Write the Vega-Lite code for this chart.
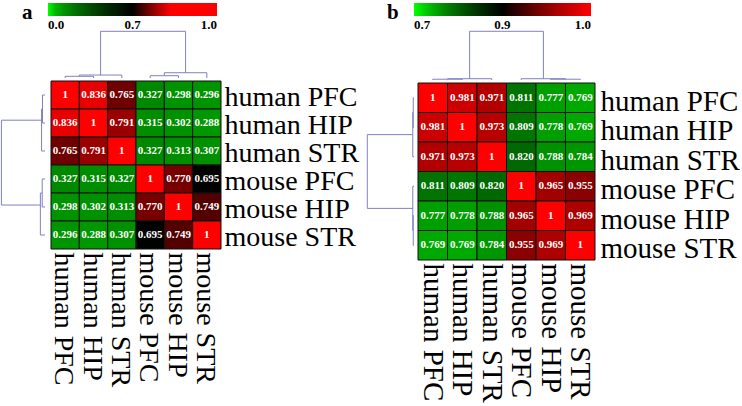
{
"$schema": "https://vega.github.io/schema/vega-lite/v6.json",
"padding": {"top": -7, "left": 0, "right": 0, "bottom": 0},
"background": "white",
"config": {"view": {"stroke": null}, "font": "Liberation Serif"},
"datasets": {
"matA": [
{"r":"human PFC","c":"human PFC","v":1,"t":"1"},{"r":"human PFC","c":"human HIP","v":0.836,"t":"0.836"},{"r":"human PFC","c":"human STR","v":0.765,"t":"0.765"},{"r":"human PFC","c":"mouse PFC","v":0.327,"t":"0.327"},{"r":"human PFC","c":"mouse HIP","v":0.298,"t":"0.298"},{"r":"human PFC","c":"mouse STR","v":0.296,"t":"0.296"},
{"r":"human HIP","c":"human PFC","v":0.836,"t":"0.836"},{"r":"human HIP","c":"human HIP","v":1,"t":"1"},{"r":"human HIP","c":"human STR","v":0.791,"t":"0.791"},{"r":"human HIP","c":"mouse PFC","v":0.315,"t":"0.315"},{"r":"human HIP","c":"mouse HIP","v":0.302,"t":"0.302"},{"r":"human HIP","c":"mouse STR","v":0.288,"t":"0.288"},
{"r":"human STR","c":"human PFC","v":0.765,"t":"0.765"},{"r":"human STR","c":"human HIP","v":0.791,"t":"0.791"},{"r":"human STR","c":"human STR","v":1,"t":"1"},{"r":"human STR","c":"mouse PFC","v":0.327,"t":"0.327"},{"r":"human STR","c":"mouse HIP","v":0.313,"t":"0.313"},{"r":"human STR","c":"mouse STR","v":0.307,"t":"0.307"},
{"r":"mouse PFC","c":"human PFC","v":0.327,"t":"0.327"},{"r":"mouse PFC","c":"human HIP","v":0.315,"t":"0.315"},{"r":"mouse PFC","c":"human STR","v":0.327,"t":"0.327"},{"r":"mouse PFC","c":"mouse PFC","v":1,"t":"1"},{"r":"mouse PFC","c":"mouse HIP","v":0.770,"t":"0.770"},{"r":"mouse PFC","c":"mouse STR","v":0.695,"t":"0.695"},
{"r":"mouse HIP","c":"human PFC","v":0.298,"t":"0.298"},{"r":"mouse HIP","c":"human HIP","v":0.302,"t":"0.302"},{"r":"mouse HIP","c":"human STR","v":0.313,"t":"0.313"},{"r":"mouse HIP","c":"mouse PFC","v":0.770,"t":"0.770"},{"r":"mouse HIP","c":"mouse HIP","v":1,"t":"1"},{"r":"mouse HIP","c":"mouse STR","v":0.749,"t":"0.749"},
{"r":"mouse STR","c":"human PFC","v":0.296,"t":"0.296"},{"r":"mouse STR","c":"human HIP","v":0.288,"t":"0.288"},{"r":"mouse STR","c":"human STR","v":0.307,"t":"0.307"},{"r":"mouse STR","c":"mouse PFC","v":0.695,"t":"0.695"},{"r":"mouse STR","c":"mouse HIP","v":0.749,"t":"0.749"},{"r":"mouse STR","c":"mouse STR","v":1,"t":"1"}
],
"matB": [
{"r":"human PFC","c":"human PFC","v":1,"t":"1"},{"r":"human PFC","c":"human HIP","v":0.981,"t":"0.981"},{"r":"human PFC","c":"human STR","v":0.971,"t":"0.971"},{"r":"human PFC","c":"mouse PFC","v":0.811,"t":"0.811"},{"r":"human PFC","c":"mouse HIP","v":0.777,"t":"0.777"},{"r":"human PFC","c":"mouse STR","v":0.769,"t":"0.769"},
{"r":"human HIP","c":"human PFC","v":0.981,"t":"0.981"},{"r":"human HIP","c":"human HIP","v":1,"t":"1"},{"r":"human HIP","c":"human STR","v":0.973,"t":"0.973"},{"r":"human HIP","c":"mouse PFC","v":0.809,"t":"0.809"},{"r":"human HIP","c":"mouse HIP","v":0.778,"t":"0.778"},{"r":"human HIP","c":"mouse STR","v":0.769,"t":"0.769"},
{"r":"human STR","c":"human PFC","v":0.971,"t":"0.971"},{"r":"human STR","c":"human HIP","v":0.973,"t":"0.973"},{"r":"human STR","c":"human STR","v":1,"t":"1"},{"r":"human STR","c":"mouse PFC","v":0.820,"t":"0.820"},{"r":"human STR","c":"mouse HIP","v":0.788,"t":"0.788"},{"r":"human STR","c":"mouse STR","v":0.784,"t":"0.784"},
{"r":"mouse PFC","c":"human PFC","v":0.811,"t":"0.811"},{"r":"mouse PFC","c":"human HIP","v":0.809,"t":"0.809"},{"r":"mouse PFC","c":"human STR","v":0.820,"t":"0.820"},{"r":"mouse PFC","c":"mouse PFC","v":1,"t":"1"},{"r":"mouse PFC","c":"mouse HIP","v":0.965,"t":"0.965"},{"r":"mouse PFC","c":"mouse STR","v":0.955,"t":"0.955"},
{"r":"mouse HIP","c":"human PFC","v":0.777,"t":"0.777"},{"r":"mouse HIP","c":"human HIP","v":0.778,"t":"0.778"},{"r":"mouse HIP","c":"human STR","v":0.788,"t":"0.788"},{"r":"mouse HIP","c":"mouse PFC","v":0.965,"t":"0.965"},{"r":"mouse HIP","c":"mouse HIP","v":1,"t":"1"},{"r":"mouse HIP","c":"mouse STR","v":0.969,"t":"0.969"},
{"r":"mouse STR","c":"human PFC","v":0.769,"t":"0.769"},{"r":"mouse STR","c":"human HIP","v":0.769,"t":"0.769"},{"r":"mouse STR","c":"human STR","v":0.784,"t":"0.784"},{"r":"mouse STR","c":"mouse PFC","v":0.955,"t":"0.955"},{"r":"mouse STR","c":"mouse HIP","v":0.969,"t":"0.969"},{"r":"mouse STR","c":"mouse STR","v":1,"t":"1"}
],
"treeA": [
{"p1":0.5,"p2":0.5,"h1":0,"h2":1.7},{"p1":1.5,"p2":1.5,"h1":0,"h2":1.7},{"p1":0.5,"p2":1.5,"h1":1.7,"h2":1.7},
{"p1":1.0,"p2":1.0,"h1":1.7,"h2":3},{"p1":2.5,"p2":2.5,"h1":0,"h2":3},{"p1":1.0,"p2":2.5,"h1":3,"h2":3},
{"p1":3.5,"p2":3.5,"h1":0,"h2":2.3},{"p1":4.5,"p2":4.5,"h1":0,"h2":2.3},{"p1":3.5,"p2":4.5,"h1":2.3,"h2":2.3},
{"p1":4.0,"p2":4.0,"h1":2.3,"h2":5.3},{"p1":5.5,"p2":5.5,"h1":0,"h2":5.3},{"p1":4.0,"p2":5.5,"h1":5.3,"h2":5.3},
{"p1":1.75,"p2":1.75,"h1":3,"h2":47},{"p1":4.75,"p2":4.75,"h1":5.3,"h2":47},{"p1":1.75,"p2":4.75,"h1":47,"h2":47}
],
"treeAL": [
{"p1":0.5,"p2":0.5,"h1":0,"h2":2.7},{"p1":1.5,"p2":1.5,"h1":0,"h2":2.7},{"p1":0.5,"p2":1.5,"h1":2.7,"h2":2.7},
{"p1":1.0,"p2":1.0,"h1":2.7,"h2":3.7},{"p1":2.5,"p2":2.5,"h1":0,"h2":3.7},{"p1":1.0,"p2":2.5,"h1":3.7,"h2":3.7},
{"p1":3.5,"p2":3.5,"h1":0,"h2":3},{"p1":4.5,"p2":4.5,"h1":0,"h2":3},{"p1":3.5,"p2":4.5,"h1":3,"h2":3},
{"p1":4.0,"p2":4.0,"h1":3,"h2":5},{"p1":5.5,"p2":5.5,"h1":0,"h2":5},{"p1":4.0,"p2":5.5,"h1":5,"h2":5},
{"p1":1.4,"p2":1.4,"h1":3.7,"h2":47},{"p1":4.43,"p2":4.43,"h1":5,"h2":47},{"p1":1.4,"p2":4.43,"h1":47,"h2":47}
],
"treeB": [
{"p1":0.5,"p2":0.5,"h1":0,"h2":0.8},{"p1":1.5,"p2":1.5,"h1":0,"h2":0.8},{"p1":0.5,"p2":1.5,"h1":0.8,"h2":0.8},
{"p1":1.0,"p2":1.0,"h1":0.8,"h2":1.3},{"p1":2.5,"p2":2.5,"h1":0,"h2":1.3},{"p1":1.0,"p2":2.5,"h1":1.3,"h2":1.3},
{"p1":4.5,"p2":4.5,"h1":0,"h2":0.8},{"p1":5.5,"p2":5.5,"h1":0,"h2":0.8},{"p1":4.5,"p2":5.5,"h1":0.8,"h2":0.8},
{"p1":5.0,"p2":5.0,"h1":0.8,"h2":1.3},{"p1":3.5,"p2":3.5,"h1":0,"h2":1.3},{"p1":3.5,"p2":5.0,"h1":1.3,"h2":1.3},
{"p1":1.75,"p2":1.75,"h1":1.3,"h2":49.3},{"p1":4.25,"p2":4.25,"h1":1.3,"h2":49.3},{"p1":1.75,"p2":4.25,"h1":49.3,"h2":49.3}
]
},
"hconcat": [
{
"columns": 2,
"spacing": {"row": 1, "column": 2},
"concat": [
{"width": 45, "height": 47, "data": {"values": [{}]}, "mark": {"type": "text", "text": ""}},
{"width": 170, "height": 47, "data": {"name": "treeA"},
 "mark": {"type": "rule", "color": "#8080c0", "strokeWidth": 1},
 "encoding": {
  "x": {"field": "p1", "type": "quantitative", "scale": {"domain": [0, 6], "nice": false, "zero": false}, "axis": null},
  "x2": {"field": "p2"},
  "y": {"field": "h1", "type": "quantitative", "scale": {"domain": [0, 47.3], "nice": false}, "axis": null},
  "y2": {"field": "h2"}}},
{"width": 45, "height": 168, "data": {"name": "treeAL"},
 "mark": {"type": "rule", "color": "#8080c0", "strokeWidth": 1},
 "encoding": {
  "y": {"field": "p1", "type": "quantitative", "scale": {"domain": [0, 6], "reverse": true, "nice": false, "zero": false}, "axis": null},
  "y2": {"field": "p2"},
  "x": {"field": "h1", "type": "quantitative", "scale": {"domain": [0, 48.5], "reverse": true, "nice": false}, "axis": null},
  "x2": {"field": "h2"}}},
{"width": 170, "height": 168, "data": {"name": "matA"},
 "encoding": {
  "x": {"field": "c", "type": "nominal", "sort": ["human PFC","human HIP","human STR","mouse PFC","mouse HIP","mouse STR"], "scale": {"paddingInner": 0, "paddingOuter": 0},
        "axis": {"orient": "bottom", "title": null, "labelAngle": 90, "labelAlign": "left", "labelBaseline": "middle", "labelFont": "Liberation Serif", "labelFontSize": 28, "labelColor": "black", "ticks": false, "domain": false, "labelPadding": 3, "labelOffset": -2, "labelLimit": 300}},
  "y": {"field": "r", "type": "nominal", "sort": ["human PFC","human HIP","human STR","mouse PFC","mouse HIP","mouse STR"], "scale": {"paddingInner": 0, "paddingOuter": 0},
        "axis": {"orient": "right", "title": null, "labelAngle": 0, "labelAlign": "left", "labelBaseline": "middle", "labelFont": "Liberation Serif", "labelFontSize": 28, "labelColor": "black", "ticks": false, "domain": false, "labelPadding": 3, "labelOffset": 3, "labelLimit": 300}}},
 "layer": [
  {"mark": {"type": "rect", "stroke": "#111111", "strokeWidth": 1},
   "encoding": {"color": {"field": "v", "type": "quantitative",
     "scale": {"type": "pow", "exponent": 1.943, "domain": [0, 0.2, 0.3, 0.4, 0.5, 0.6, 0.7, 0.75, 0.8, 0.85, 1], "range": ["#00ff00", "#00b600", "#009200", "#006d00", "#004900", "#002400", "#000000", "#550000", "#aa0000", "#ff0000", "#ff0000"], "interpolate": "rgb"},
     "legend": {"orient": "none", "legendX": 12, "legendY": -38, "padding": 10, "direction": "horizontal", "gradientLength": 169, "gradientThickness": 13, "gradientStrokeWidth": 0,
       "values": [0, 0.7, 1], "format": ".1f", "labelFont": "Liberation Serif", "labelFontWeight": "bold", "labelFontSize": 13, "labelColor": "black", "labelOffset": 3,
       "title": "a", "titleOrient": "left", "titleFont": "Liberation Serif", "titleFontSize": 21, "titleFontWeight": "bold", "titleColor": "black", "titlePadding": 15, "titleBaseline": "line-top", "titleLineHeight": 15.4}}}},
  {"mark": {"type": "text", "color": "white", "fontWeight": "bold", "fontSize": 11, "font": "Liberation Serif"},
   "encoding": {"text": {"field": "t"}}}
 ]}
]
},
{
"columns": 2,
"spacing": {"row": 1, "column": 2},
"concat": [
{"width": 47, "height": 49, "data": {"values": [{}]}, "mark": {"type": "text", "text": ""}},
{"width": 177, "height": 49, "data": {"name": "treeB"},
 "mark": {"type": "rule", "color": "#8080c0", "strokeWidth": 1},
 "encoding": {
  "x": {"field": "p1", "type": "quantitative", "scale": {"domain": [0, 6], "nice": false, "zero": false}, "axis": null},
  "x2": {"field": "p2"},
  "y": {"field": "h1", "type": "quantitative", "scale": {"domain": [0, 49.6], "nice": false}, "axis": null},
  "y2": {"field": "h2"}}},
{"width": 47, "height": 177, "data": {"name": "treeB"},
 "mark": {"type": "rule", "color": "#8080c0", "strokeWidth": 1},
 "encoding": {
  "y": {"field": "p1", "type": "quantitative", "scale": {"domain": [0, 6], "reverse": true, "nice": false, "zero": false}, "axis": null},
  "y2": {"field": "p2"},
  "x": {"field": "h1", "type": "quantitative", "scale": {"domain": [0, 49.6], "reverse": true, "nice": false}, "axis": null},
  "x2": {"field": "h2"}}},
{"width": 177, "height": 177, "data": {"name": "matB"},
 "encoding": {
  "x": {"field": "c", "type": "nominal", "sort": ["human PFC","human HIP","human STR","mouse PFC","mouse HIP","mouse STR"], "scale": {"paddingInner": 0, "paddingOuter": 0},
        "axis": {"orient": "bottom", "title": null, "labelAngle": 90, "labelAlign": "left", "labelBaseline": "middle", "labelFont": "Liberation Serif", "labelFontSize": 29, "labelColor": "black", "ticks": false, "domain": false, "labelPadding": 3, "labelLimit": 300}},
  "y": {"field": "r", "type": "nominal", "sort": ["human PFC","human HIP","human STR","mouse PFC","mouse HIP","mouse STR"], "scale": {"paddingInner": 0, "paddingOuter": 0},
        "axis": {"orient": "right", "title": null, "labelAngle": 0, "labelAlign": "left", "labelBaseline": "middle", "labelFont": "Liberation Serif", "labelFontSize": 29, "labelColor": "black", "ticks": false, "domain": false, "labelPadding": 5, "labelOffset": 4, "labelLimit": 300}}},
 "layer": [
  {"mark": {"type": "rect", "stroke": "#111111", "strokeWidth": 1},
   "encoding": {"color": {"field": "v", "type": "quantitative",
     "scale": {"type": "pow", "exponent": 5.2, "domain": [0.7, 0.75, 0.8, 0.85, 0.9, 0.95, 1], "range": ["#00ff00", "#00bf00", "#008000", "#004000", "#000000", "#800000", "#ff0000"], "interpolate": "rgb"},
     "legend": {"orient": "none", "legendX": 10, "legendY": -38, "padding": 10, "direction": "horizontal", "gradientLength": 177, "gradientThickness": 13, "gradientStrokeWidth": 0,
       "values": [0.7, 0.9, 1], "format": ".1f", "labelFont": "Liberation Serif", "labelFontWeight": "bold", "labelFontSize": 13, "labelColor": "black", "labelOffset": 3,
       "title": "b", "titleOrient": "left", "titleFont": "Liberation Serif", "titleFontSize": 21, "titleFontWeight": "bold", "titleColor": "black", "titlePadding": 15, "titleBaseline": "line-top", "titleLineHeight": 15.4}}}},
  {"mark": {"type": "text", "color": "white", "fontWeight": "bold", "fontSize": 11, "font": "Liberation Serif"},
   "encoding": {"text": {"field": "t"}}}
 ]}
]
}
],
"spacing": 7,
"resolve": {"scale": {"color": "independent"}, "legend": {"color": "independent"}}
}
